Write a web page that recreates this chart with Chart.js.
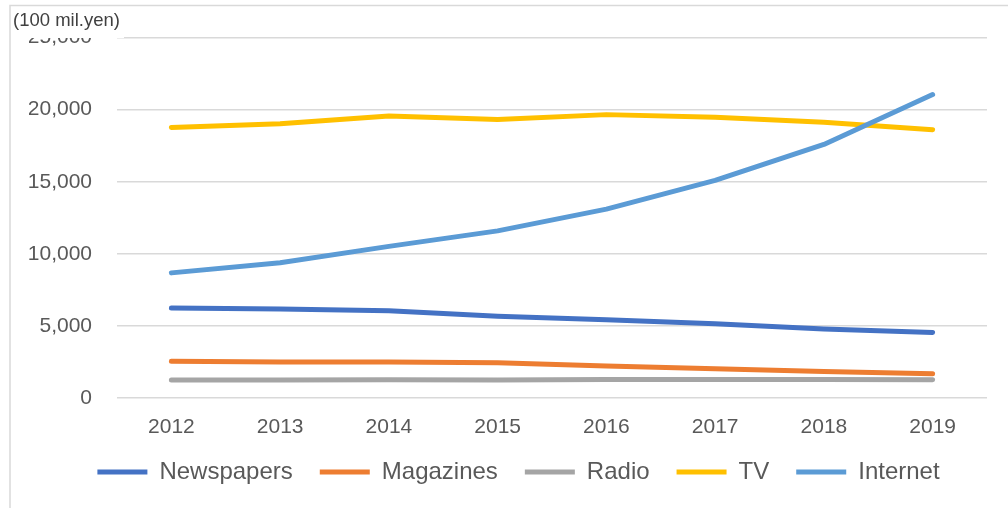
<!DOCTYPE html>
<html>
<head>
<meta charset="utf-8">
<script src="https://cdn.jsdelivr.net/npm/chart.js@4/dist/chart.umd.min.js"></script>
<style>
    body { margin: 0; background: #ffffff; }
    #wrap { width: 1008px; height: 508px; }
</style>
</head>
<body>
<div id="wrap"><canvas id="adChart" width="1008" height="508"></canvas></div>
<script>
// Advertising spend by medium, 100 mil. yen
const years = ['2012', '2013', '2014', '2015', '2016', '2017', '2018', '2019'];
const newspapers = [6242, 6170, 6057, 5679, 5431, 5147, 4784, 4547];
const magazines = [2551, 2499, 2500, 2443, 2223, 2023, 1841, 1675];
const radio = [1246, 1243, 1272, 1254, 1285, 1290, 1278, 1260];
const tv = [18770, 19023, 19564, 19323, 19657, 19478, 19123, 18612];
const internet = [8680, 9381, 10519, 11594, 13100, 15094, 17589, 21048];

const seriesNames = ['Newspapers', 'Magazines', 'Radio', 'TV', 'Internet'];
const seriesColors = ['#4472C4', '#ED7D31', '#A5A5A5', '#FFC000', '#5B9BD5'];
const seriesData = [newspapers, magazines, radio, tv, internet];

const FONT = "'Liberation Sans', Arial, sans-serif";

// frame + unit label in the top left corner
const framePlugin = {
    id: 'frame',
    afterLayout(chart) {
        // let the year labels run past the axis box instead of being clipped
        chart.scales.x.bottom += 12;
    },
    beforeDraw(chart) {
        const ctx = chart.ctx;
        ctx.save();
        ctx.strokeStyle = '#d9d9d9';
        ctx.lineWidth = 1.5;
        ctx.beginPath();
        ctx.moveTo(10, 508);
        ctx.lineTo(10, 5.5);
        ctx.lineTo(1008, 5.5);
        ctx.stroke();
        ctx.restore();
    },
    afterDraw(chart) {
        const ctx = chart.ctx;
        ctx.save();
        ctx.fillStyle = '#ffffff';
        ctx.fillRect(11, 7, 113, 31);
        ctx.fillStyle = '#404040';
        ctx.font = '18.5px ' + FONT;
        ctx.textBaseline = 'middle';
        ctx.textAlign = 'left';
        ctx.fillText('(100 mil.yen)', 13, 21);
        ctx.restore();
    }
};

const ctx = document.getElementById('adChart').getContext('2d');
const adChart = new Chart(ctx, {
    type: 'line',
    data: {
        labels: years,
        datasets: seriesNames.map((name, i) => ({
            label: name,
            data: seriesData[i],
            borderColor: seriesColors[i],
            backgroundColor: seriesColors[i],
            borderWidth: 5,
            borderCapStyle: 'round',
            borderJoinStyle: 'round',
            pointRadius: 0,
            pointHoverRadius: 0,
            tension: 0,
            fill: false,
            order: seriesNames.length - i
        }))
    },
    options: {
        responsive: false,
        animation: false,
        events: [],
        layout: {
            autoPadding: false,
            padding: { left: 29, right: 0, top: 35, bottom: 14 }
        },
        scales: {
            x: {
                type: 'category',
                offset: true,
                grid: { display: false },
                border: { display: false },
                ticks: {
                    color: '#595959',
                    font: { family: FONT, size: 21 },
                    padding: 9,
                    maxRotation: 0
                },
                afterFit: function(scale) { scale.height = 35; }
            },
            y: {
                min: 0,
                max: 25000,
                border: { display: false },
                grid: { color: '#d9d9d9', lineWidth: 1.5, drawTicks: false },
                ticks: {
                    stepSize: 5000,
                    color: '#595959',
                    font: { family: FONT, size: 21 },
                    padding: 25,
                    callback: function(value) {
                        return value.toLocaleString('en-US');
                    }
                },
                afterFit: function(scale) { scale.width = 88; }
            },
            y2: {
                display: true,
                position: 'right',
                grid: { display: false },
                border: { display: false },
                ticks: { display: false },
                afterFit: function(scale) { scale.width = 21; }
            }
        },
        plugins: {
            legend: {
                position: 'bottom',
                labels: {
                    usePointStyle: true,
                    pointStyle: 'line',
                    pointStyleWidth: 50,
                    padding: 27,
                    color: '#595959',
                    font: { family: FONT, size: 24 },
                    sort: function(a, b) { return a.datasetIndex - b.datasetIndex; }
                }
            },
            tooltip: { enabled: false }
        }
    },
    plugins: [framePlugin]
});
</script>
</body>
</html>
